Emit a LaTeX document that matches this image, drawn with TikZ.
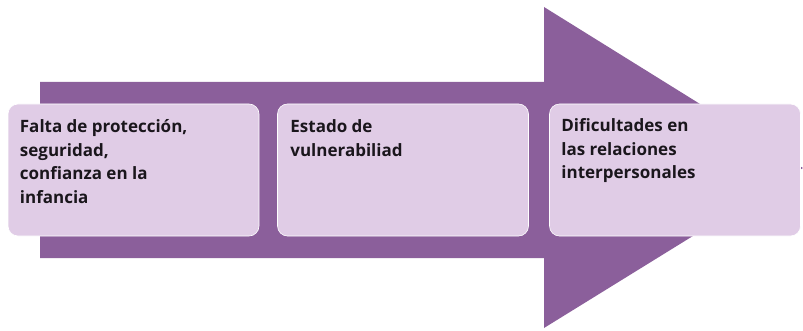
\documentclass[tikz,border=0pt]{standalone}
\usepackage{fontspec}
\setmainfont{Open Sans}
\definecolor{arrowpurple}{RGB}{139,95,155}
\definecolor{boxlilac}{RGB}{224,204,230}
\definecolor{textdark}{RGB}{26,22,28}
\tikzset{
  stepbox/.style={draw=white, line width=0.6pt, fill=boxlilac, rounded corners=10pt,
    minimum width=251pt, minimum height=132pt, inner sep=0pt},
  steptext/.style={anchor=north west, inner sep=0pt, align=left, text=textdark,
    font=\fontsize{17pt}{23.5pt}\selectfont\bfseries}
}
\begin{document}
\begin{tikzpicture}[x=1pt,y=1pt]
\useasboundingbox (0,0) rectangle (803,330);
% big arrow behind the steps
\fill[arrowpurple] (40,72) -- (544,72) -- (544,2) -- (803,162) -- (544,323) -- (544,248) -- (40,248) -- cycle;
\node[stepbox] (infancia) at (133.5,160) {};
\node[stepbox] (vulnerab) at (403,160) {};
\node[stepbox] (relaciones) at (675,160) {};
\node[steptext] (t1) at ([shift={(12,-16)}]infancia.north west) {Falta de protección,\\seguridad,\\confianza en la\\infancia};
\node[steptext] (t2) at ([shift={(13,-16)}]vulnerab.north west) {Estado de\\vulnerabiliad};
\node[steptext] (t3) at ([shift={(12,-15)}]relaciones.north west) {Dificultades en\\las relaciones\\interpersonales};
\end{tikzpicture}
\end{document}
